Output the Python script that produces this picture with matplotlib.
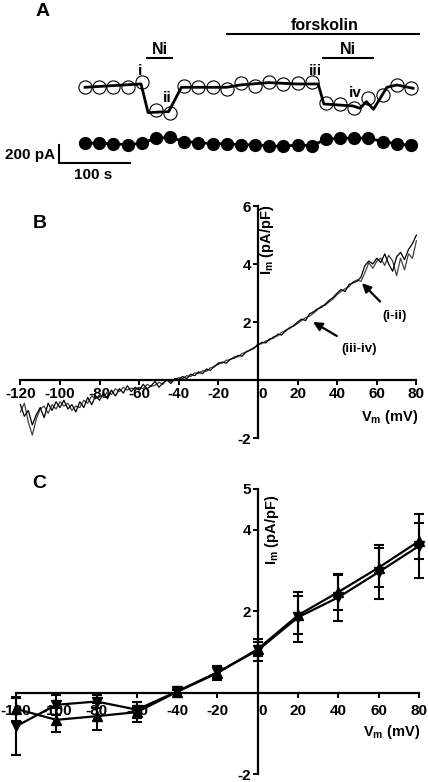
import numpy as np
import matplotlib.pyplot as plt
import matplotlib.transforms as mtransforms

plt.rcParams['font.family'] = ['Liberation Sans', 'DejaVu Sans']
plt.rcParams['font.weight'] = 'bold'
plt.rcParams['mathtext.fontset'] = 'custom'
plt.rcParams['mathtext.rm'] = 'Liberation Sans:bold'
plt.rcParams['mathtext.it'] = 'Liberation Sans:bold'
plt.rcParams['mathtext.bf'] = 'Liberation Sans:bold'

W, H = 428, 782

# ---- panel A: time course (s, pA) ----
t_pts = np.arange(0, 480, 20)
i_open = [0, 0, 0, 5, 60, -250, -280, 15, 0, 0, -20, 45,
          15, 60, 35, 45, 60, -170, -180, -235, -120, -85, 25, -10]
t_line = [0, 79, 89, 118, 136, 200, 219, 259, 299, 329, 337, 378, 388, 397, 407, 426, 440, 463]
i_line = [0, 37, -281, -270, 0, 0, 26, 52, 37, 37, -185, -207, -233, -159, -244, 0, 26, -11]
i_filled = [0, 0, -7, -18, 0, 55, 63, 18, 7, -7, -7, -18,
            -18, -30, -37, -18, -30, 44, 55, 55, 55, 18, -7, -26]
filled_offset = -620
forskolin_on = (200, 471)
ni_on = [(87, 123), (336, 406)]

# ---- panel B: I-V ramps ----
v_ramp = np.arange(-120, 82, 2)
iv_i_ii = [-0.85, -1.25, -1.05, -1.55, -1.20, -0.95, -1.30, -0.80, -1.05, -0.75,
           -0.95, -0.70, -1.00, -0.85, -1.10, -0.75, -0.95, -0.60, -0.85, -0.55,
           -0.70, -0.45, -0.65, -0.35, -0.55, -0.30, -0.45, -0.20, -0.40, -0.25,
           -0.35, -0.15, -0.30, -0.20, -0.05, -0.25, -0.10, 0.00, -0.12, 0.05,
           0.02, 0.12, 0.05, 0.20, 0.15, 0.28, 0.22, 0.38, 0.33, 0.48,
           0.55, 0.62, 0.58, 0.72, 0.75, 0.85, 0.82, 0.98, 1.02, 1.12,
           1.20, 1.30, 1.28, 1.42, 1.45, 1.58, 1.55, 1.72, 1.78, 1.88,
           2.00, 2.10, 2.05, 2.28, 2.35, 2.45, 2.50, 2.62, 2.75, 2.85,
           3.00, 3.12, 3.05, 3.30, 3.35, 3.40, 3.55, 3.95, 4.10, 4.00,
           4.20, 4.05, 4.35, 4.00, 3.75, 4.25, 4.40, 4.15, 4.50, 4.70,
           5.00]
iv_iii_iv = [-1.10, -0.80, -1.45, -1.90, -1.35, -1.00, -0.90, -1.15, -0.85, -1.00,
             -0.75, -0.90, -0.80, -1.05, -0.90, -0.95, -0.70, -0.80, -0.55, -0.65,
             -0.50, -0.60, -0.40, -0.50, -0.30, -0.40, -0.25, -0.35, -0.28, -0.32,
             -0.25, -0.30, -0.15, -0.22, -0.18, -0.08, -0.15, 0.02, -0.05, 0.00,
             0.08, 0.05, 0.15, 0.12, 0.25, 0.22, 0.32, 0.30, 0.42, 0.45,
             0.60, 0.58, 0.68, 0.70, 0.80, 0.80, 0.92, 0.95, 1.05, 1.08,
             1.25, 1.25, 1.35, 1.38, 1.50, 1.52, 1.65, 1.68, 1.82, 1.85,
             1.95, 2.05, 2.15, 2.20, 2.30, 2.42, 2.55, 2.58, 2.70, 2.80,
             2.95, 3.05, 3.15, 3.22, 3.38, 3.45, 3.40, 3.70, 4.05, 3.85,
             4.10, 4.20, 3.95, 4.30, 4.10, 3.60, 4.20, 3.80, 4.35, 4.20,
             4.80]

# ---- panel C: mean I-V ----
v_step = [-120, -100, -80, -60, -40, -20, 0, 20, 40, 60, 80]
i_up = [-0.40, -0.67, -0.58, -0.48, 0.02, 0.48, 1.07, 1.90, 2.47, 3.07, 3.72]
e_up = [0.30, 0.30, 0.33, 0.25, 0.05, 0.18, 0.17, 0.47, 0.43, 0.48, 0.45]
i_down = [-0.83, -0.30, -0.22, -0.42, 0.03, 0.50, 1.04, 1.85, 2.34, 2.96, 3.60]
e_down = [0.70, 0.25, 0.15, 0.20, 0.05, 0.15, 0.27, 0.61, 0.58, 0.66, 0.78]

xticks = [-120, -100, -80, -60, -40, -20, 0, 20, 40, 60, 80]


fig = plt.figure(figsize=(W / 100, H / 100), dpi=100)


def px_axes(left, top, right, bottom):
    return fig.add_axes([left / W, 1 - bottom / H, (right - left) / W, (bottom - top) / H])


def ftext(x, y, s, **kw):
    kw.setdefault('ha', 'center')
    kw.setdefault('va', 'center')
    kw.setdefault('fontweight', 'bold')
    fig.text(x / W, 1 - y / H, s, **kw)


# panel A
ax_a = px_axes(0, 0, 428, 190)
ax_a.axis('off')
ax_a.set_xlim(-120, 484)
ax_a.set_ylim(-1140, 969)
ax_a.plot(t_pts, i_open, 'o', ms=9.5, mfc='none', mec='black', mew=0.8)
ax_a.plot(t_line, i_line, color='black', lw=2)
ax_a.plot(t_pts, np.array(i_filled) + filled_offset, 'o-', color='black', ms=8.5, lw=2)
ax_a.plot(forskolin_on, [592, 592], color='black', lw=1.5)
for on, off in ni_on:
    ax_a.plot([on, off], [325, 325], color='black', lw=1.5)
# scale bar
ax_a.plot([-37, -37, 63], [-640, -840, -840], color='black', lw=1.5)

ftext(43, 11, 'A', fontsize=14)
ftext(325, 26, 'forskolin', fontsize=11.5)
ftext(160, 49, 'Ni', fontsize=11.5)
ftext(348, 49, 'Ni', fontsize=11.5)
ftext(140, 71, 'i', fontsize=11)
ftext(167, 98, 'ii', fontsize=11)
ftext(315, 71, 'iii', fontsize=11)
ftext(355, 93, 'iv', fontsize=11)
ftext(55, 155, '200 pA', fontsize=11, ha='right')
ftext(93, 175, '100 s', fontsize=11)


def style_axes(ax, yticks, pad):
    for s in ['top', 'right']:
        ax.spines[s].set_visible(False)
    ax.spines['left'].set_position(('data', 0))
    ax.spines['bottom'].set_position(('data', 0))
    for s in ['left', 'bottom']:
        ax.spines[s].set_linewidth(1.6)
    ax.set_xticks(xticks)
    ax.set_xticklabels([str(v) for v in xticks])
    ax.set_yticks(yticks)
    ax.set_yticklabels([str(v) for v in yticks])
    ax.tick_params(axis='both', direction='out', length=3.5, width=1.4, labelsize=11)
    ax.tick_params(axis='x', pad=pad)
    ax.tick_params(axis='y', pad=1.5)
    for lbl in ax.get_xticklabels():
        lbl.set_fontweight('bold')
        if lbl.get_text() == '0':
            lbl.set_transform(lbl.get_transform() +
                              mtransforms.ScaledTranslation(5 / 100, 0, fig.dpi_scale_trans))
    for lbl in ax.get_yticklabels():
        lbl.set_fontweight('bold')
    ax.patch.set_visible(False)


# panel B
ax_b = px_axes(20.4, 206, 416.4, 438)
ax_b.plot(v_ramp, iv_iii_iv, color='0.25', lw=0.9, clip_on=False)
ax_b.plot(v_ramp, iv_i_ii, color='black', lw=0.9, clip_on=False)
ax_b.set_xlim(-120, 80)
ax_b.set_ylim(-2, 6)
style_axes(ax_b, [-2, 2, 4, 6], 1.5)
ax_b.annotate('(i-ii)', xy=(52.5, 3.34), xytext=(69, 2.2), fontsize=9.5, fontweight='bold',
              ha='center', va='center',
              arrowprops=dict(arrowstyle='-|>', color='black', lw=1.6, mutation_scale=13,
                              shrinkA=6, shrinkB=0))
ax_b.annotate('(iii-iv)', xy=(27.8, 2.0), xytext=(51, 1.07), fontsize=9.5, fontweight='bold',
              ha='center', va='center',
              arrowprops=dict(arrowstyle='-|>', color='black', lw=1.6, mutation_scale=13,
                              shrinkA=6, shrinkB=0))
ftext(40, 223, 'B', fontsize=14)
ftext(267, 240, r'$\mathrm{I_m}$ (pA/pF)', fontsize=10.5, rotation=90)
ftext(390, 417, r'$\mathrm{V_m}$ (mV)', fontsize=10.5)

# panel C
ax_c = px_axes(16, 489, 419, 774)
for vals, errs, mk in [(i_up, e_up, '^'), (i_down, e_down, 'v')]:
    parts = ax_c.errorbar(v_step, vals, yerr=errs, color='black', marker=mk, ms=7, lw=1.6,
                          elinewidth=1.5, capsize=3.6, capthick=1.5)
    for art in parts.lines[:1] + tuple(parts.lines[1]) + tuple(parts.lines[2]):
        art.set_clip_on(False)
ax_c.set_xlim(-120, 80)
ax_c.set_ylim(-2, 5)
style_axes(ax_c, [-2, 2, 4, 5], 5)
ftext(39, 484, 'C', fontsize=14)
ftext(272, 530, r'$\mathrm{I_m}$ (pA/pF)', fontsize=10.5, rotation=90)
ftext(392, 732, r'$\mathrm{V_m}$ (mV)', fontsize=10.5)

fig.savefig('out.png', dpi=100)
